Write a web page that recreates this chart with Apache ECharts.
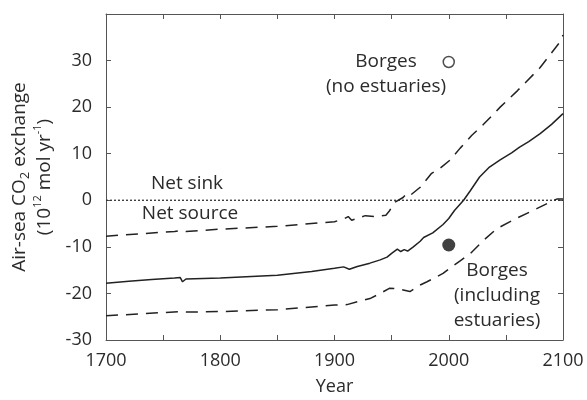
<!DOCTYPE html>
<html>
<head>
<meta charset="utf-8">
<script src="https://cdn.jsdelivr.net/npm/echarts@6/dist/echarts.min.js"></script>
<style>html,body{margin:0;padding:0;background:#fff}#c{width:587px;height:400px}</style>
</head>
<body>
<div id="c"></div>
<script>
var central = [[1700,-17.8],[1720,-17.4],[1740,-17.0],[1760,-16.7],[1765,-16.6],[1767,-17.5],[1770,-16.9],[1800,-16.7],[1850,-16.1],[1880,-15.3],[1900,-14.6],[1908,-14.3],[1913,-14.8],[1920,-14.2],[1931,-13.5],[1940,-12.8],[1946,-12.2],[1950,-11.4],[1955,-10.5],[1958,-11.0],[1961,-10.6],[1964,-10.9],[1969,-10.0],[1975,-8.8],[1978,-8.0],[1986,-7.0],[1995,-5.2],[2000,-3.9],[2005,-2.2],[2013,0],[2019,2.1],[2027,5.0],[2035,7.0],[2045,8.7],[2055,10.2],[2062,11.4],[2070,12.6],[2080,14.3],[2090,16.3],[2100,18.6]];
var upper = [[1700,-7.7],[1730,-7.2],[1760,-6.7],[1765,-6.5],[1770,-6.7],[1800,-6.2],[1850,-5.6],[1890,-4.8],[1900,-4.6],[1909,-3.9],[1912,-3.5],[1915,-4.3],[1927,-3.3],[1935,-3.5],[1945,-3.2],[1948,-2.3],[1953,-0.4],[1960,0.6],[1963,1.4],[1966,1.0],[1975,2.8],[1985,5.8],[1992,6.8],[2001,8.6],[2010,11.2],[2020,13.9],[2030,16.2],[2045,20.0],[2060,23.5],[2080,28.5],[2097,33.9],[2100,35.5]];
var lower = [[1700,-24.8],[1765,-23.9],[1770,-24.0],[1800,-23.9],[1850,-23.5],[1900,-22.5],[1911,-22.4],[1920,-21.8],[1931,-21.1],[1940,-20.0],[1948,-18.9],[1955,-19.0],[1966,-19.6],[1975,-18.2],[1981,-17.5],[1995,-15.7],[2001,-14.6],[2010,-13.0],[2019,-11.4],[2030,-8.7],[2042,-6.1],[2059,-3.9],[2077,-1.8],[2091,-0.1],[2095,0.3],[2100,0.3]];
var zeroLine = [[1700,0],[2100,0]];
var borgesNoEst = [[2000,29.7]];
var borgesInclEst = [[2000,-9.6]];
var xTicks = [1700,1800,1900,2000,2100];
var yTicks = [-30,-20,-10,0,10,20,30];

var FONT = 'Open Sans';
var TXT = '#2b2b2b';
var chart = echarts.init(document.getElementById('c'), null, {renderer:'canvas'});
var axisLine = {show:true, onZero:false, lineStyle:{color:'#555', width:1}};
var tick = {show:true, inside:true, length:5, lineStyle:{color:'#555'}};
chart.setOption({
  animation:false,
  backgroundColor:'#fff',
  grid:{left:106, right:24, top:14, bottom:60, containLabel:false, outerBoundsMode:'none'},
  xAxis:[
    {type:'value', min:1700, max:2100, interval:50, position:'bottom',
     axisLine:axisLine, axisTick:tick, splitLine:{show:false},
     axisLabel:{fontFamily:FONT, fontSize:18, color:TXT, margin:12,
       formatter:function(v){return xTicks.indexOf(v)>=0 ? String(v) : '';}},
     name:'Year', nameLocation:'middle', nameGap:38,
     nameTextStyle:{fontFamily:FONT, fontSize:18, color:TXT}},
    {type:'value', min:1700, max:2100, interval:50, position:'top',
     axisLine:axisLine, axisTick:tick, splitLine:{show:false}, axisLabel:{show:false}}
  ],
  yAxis:[
    {type:'value', min:-30, max:40, interval:10, position:'left',
     axisLine:axisLine, axisTick:tick, splitLine:{show:false},
     axisLabel:{fontFamily:FONT, fontSize:18, color:TXT, margin:14,
       formatter:function(v){return yTicks.indexOf(v)>=0 ? String(v) : '';}},
     name:'{a|Air-sea CO}{sub|2}{a| exchange}\n{a|(10}{sup|12}{a| mol yr}{sup|-1}{a|)}',
     nameLocation:'middle', nameRotate:90, nameGap:49,
     nameTextStyle:{fontFamily:FONT, color:TXT, align:'center',
       rich:{
         a:{fontFamily:FONT, fontSize:19, color:TXT, lineHeight:25},
         sub:{fontFamily:FONT, fontSize:13, color:TXT, lineHeight:12, verticalAlign:'bottom'},
         sup:{fontFamily:FONT, fontSize:11, color:TXT, lineHeight:14, verticalAlign:'top'}
       }}},
    {type:'value', min:-30, max:40, interval:10, position:'right',
     axisLine:axisLine, axisTick:tick, splitLine:{show:false}, axisLabel:{show:false}}
  ],
  series:[
    {type:'line', data:zeroLine, showSymbol:false, silent:true,
     lineStyle:{color:'#333', width:1.3, type:[2,2]}},
    {type:'line', data:upper, showSymbol:false,
     lineStyle:{color:'#222', width:1.5, type:[12,8]}},
    {type:'line', data:lower, showSymbol:false,
     lineStyle:{color:'#222', width:1.5, type:[12,8]}},
    {type:'line', data:central, showSymbol:false,
     lineStyle:{color:'#222', width:1.5}},
    {type:'scatter', data:borgesNoEst, symbol:'circle', symbolSize:11,
     itemStyle:{color:'#fff', borderColor:'#222', borderWidth:1.5}},
    {type:'scatter', data:borgesInclEst, symbol:'circle', symbolSize:13,
     itemStyle:{color:'#111'}}
  ],
  graphic:[
    {type:'text', x:386, y:74, style:{text:'Borges\n(no estuaries)', fontFamily:FONT, fontSize:19, fill:TXT, align:'center', verticalAlign:'middle', lineHeight:25}},
    {type:'text', x:187, y:184, style:{text:'Net sink', fontFamily:FONT, fontSize:19, fill:TXT, align:'center', verticalAlign:'middle'}},
    {type:'text', x:190, y:214, style:{text:'Net source', fontFamily:FONT, fontSize:19, fill:TXT, align:'center', verticalAlign:'middle'}},
    {type:'text', x:497, y:296, style:{text:'Borges\n(including\nestuaries)', fontFamily:FONT, fontSize:19, fill:TXT, align:'center', verticalAlign:'middle', lineHeight:25}}
  ]
});
</script>
</body>
</html>
